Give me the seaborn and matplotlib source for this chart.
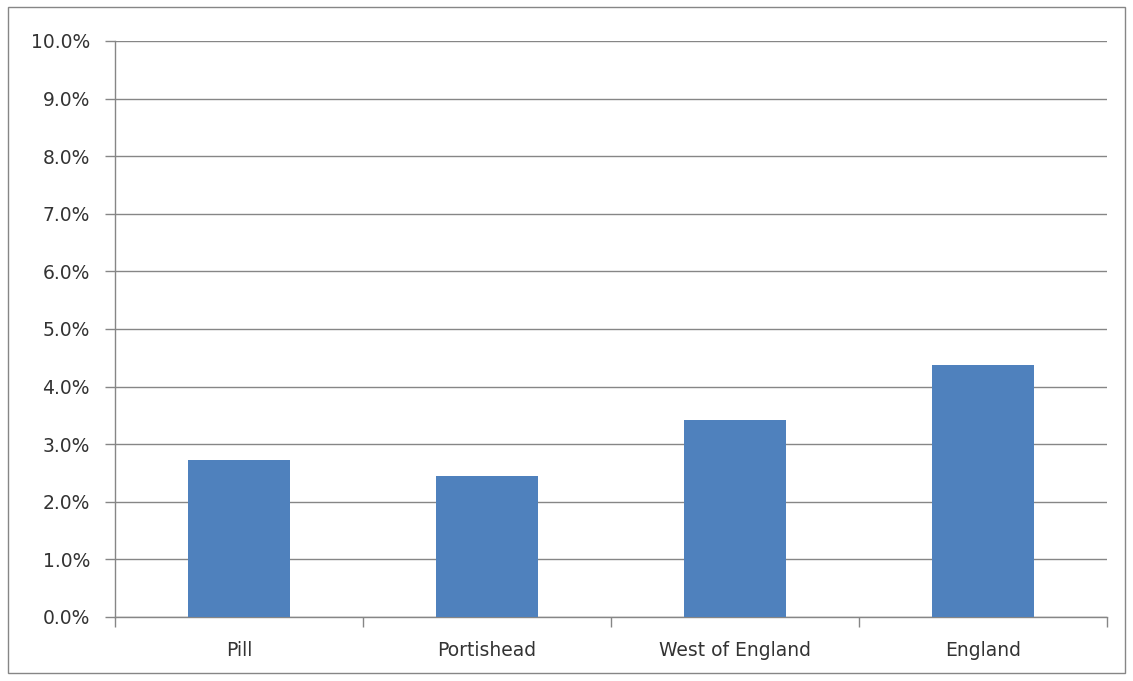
import matplotlib
matplotlib.use("Agg")
import matplotlib.pyplot as plt
import seaborn as sns
import pandas as pd
from matplotlib.patches import Rectangle
from matplotlib.ticker import FuncFormatter, MultipleLocator

categories = ["Pill", "Portishead", "West of England", "England"]
values = [2.72, 2.44, 3.42, 4.37]

df = pd.DataFrame({"area": categories, "pct": values})

sns.set_theme(style="white")
plt.rcParams['font.family'] = ['DejaVu Sans']

fig = plt.figure(figsize=(11.33, 6.81), dpi=100)
ax = fig.add_axes([115/1133, 1-617/681, (1107-115)/1133, (617-41)/681])

sns.barplot(data=df, x="area", y="pct", color="#4F81BD", width=0.41, saturation=1,
            linewidth=0, edgecolor="none", ax=ax, zorder=3)

ax.set_ylim(0, 10)
ax.set_xlim(-0.5, 3.5)
ax.yaxis.set_major_locator(MultipleLocator(1))
ax.yaxis.set_major_formatter(FuncFormatter(lambda v, p: f"{v:.1f}%"))
ax.grid(axis="y", color="#868686", linewidth=1, zorder=0)
ax.set_axisbelow(True)
for s in ["top", "right"]:
    ax.spines[s].set_visible(False)
for s in ["left", "bottom"]:
    ax.spines[s].set_color("#868686")
    ax.spines[s].set_linewidth(1)
ax.set_xlabel("")
ax.set_ylabel("")

# category boundary ticks
ax.set_xticks([-0.5, 0.5, 1.5, 2.5, 3.5], minor=True)
ax.tick_params(axis="x", which="minor", length=7, width=1, color="#868686", direction="out", bottom=True)
ax.tick_params(axis="x", which="major", length=0, labelsize=13.5, colors="#333333", pad=17)
ax.tick_params(axis="y", which="major", length=7, width=1, color="#868686", direction="out", left=True,
               labelsize=13.5, labelcolor="#333333", pad=11)

fig.patches.append(Rectangle((8/1133, 1-673/681), (1125-8)/1133, (673-7)/681,
                             transform=fig.transFigure, fill=False, edgecolor="#868686", linewidth=1))

fig.savefig("out.png", dpi=100)
